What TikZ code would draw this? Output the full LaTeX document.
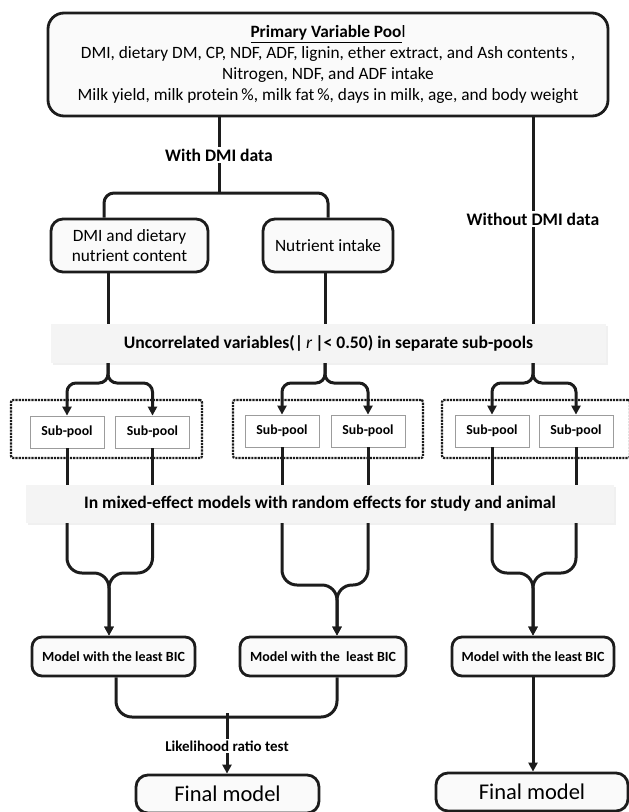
\documentclass[tikz,border=0pt]{standalone}
\usepackage{fontspec}
\setmainfont{Carlito}
\usetikzlibrary{arrows.meta,positioning,calc,shadows}
\definecolor{PoolLine}{HTML}{1C1C1C}
\definecolor{PoolFill}{HTML}{FAFAFA}
\definecolor{BandFill}{HTML}{F4F4F4}
\definecolor{SubLine}{HTML}{9C9C9C}

\begin{document}
\begin{tikzpicture}[x=1pt,y=-1pt,
    box/.style={rounded corners=16pt,draw=PoolLine,line width=2.8pt,fill=PoolFill,align=center,inner sep=2pt},
    band/.style={fill=BandFill,minimum height=39pt,inner sep=0pt,font=\fontsize{17.6}{20}\selectfont\bfseries,drop shadow={opacity=0.12,shadow xshift=1.5pt,shadow yshift=-1.5pt}},
    group/.style={draw=PoolLine,densely dotted,line width=2.2pt,rounded corners=2pt,fill=white,minimum height=58pt},
    subpool/.style={draw=SubLine,fill=white,line width=0.8pt,minimum width=74pt,minimum height=32pt,inner sep=1pt,font=\fontsize{13.8}{15}\selectfont\bfseries},
    shade/.style={drop shadow={opacity=0.3,shadow xshift=1.2pt,shadow yshift=-1.2pt}},
    model/.style={box,rounded corners=10pt,minimum height=39pt,font=\fontsize{14}{16}\selectfont\bfseries},
    final/.style={box,rounded corners=12pt,minimum height=38pt,font=\fontsize{22.5}{25}\selectfont},
    lbl/.style={fill=white,inner sep=2pt,font=\fontsize{17.6}{20}\selectfont\bfseries},
    link/.style={line width=3pt,PoolLine},
    arr/.style={link,-{Triangle[length=9pt,width=9pt]}}
  ]
    \useasboundingbox (0,0) rectangle (629,812);

    % variable pools
    \node[box,minimum width=560pt,minimum height=103pt,font=\fontsize{17.3}{21}\selectfont] (pool) at (328,64.5)
      {\textbf{\underline{Primary Variable Poo}}l\\
       DMI, dietary DM, CP, NDF, ADF, lignin, ether extract, and Ash contents\,,\\
       Nitrogen, NDF, and ADF intake\\
       Milk yield, milk protein\,\%, milk fat\,\%, days in milk, age, and body weight};
    \node[box,rounded corners=12pt,minimum width=157pt,minimum height=53pt,font=\fontsize{17.3}{20}\selectfont] (diet) at (129.5,245.5) {DMI and dietary\\nutrient content};
    \node[box,rounded corners=12pt,minimum width=130pt,minimum height=53pt,font=\fontsize{17.3}{20}\selectfont] (intake) at (328,245.5) {Nutrient intake};

    \node[band,minimum width=555pt] (unc) at (328.5,343.5) {Uncorrelated variables(|\,\textmd{\textit{r}}\,|< 0.50) in separate sub-pools};
    \node[band,minimum width=588pt,minimum height=38pt] (mix) at (320,504) {In mixed-effect models with random effects for study and animal};

    % sub-pools
    \node[group,minimum width=191pt] (grpA) at (106.5,429) {};
    \node[group,minimum width=190pt] (grpB) at (328,429) {};
    \node[group,minimum width=188pt] (grpC) at (536,429) {};
    \node[subpool] (spA1) at (67,432) {Sub-pool};
    \node[subpool] (spA2) at (152.5,432) {Sub-pool};
    \node[subpool,shade] (spB1) at (282,431) {Sub-pool};
    \node[subpool,shade] (spB2) at (368,431) {Sub-pool};
    \node[subpool,shade] (spC1) at (492,431) {Sub-pool};
    \node[subpool,shade] (spC2) at (576,431) {Sub-pool};

    \node[model,minimum width=163pt] (mA) at (113.5,656.5) {Model with the least BIC};
    \node[model,minimum width=166pt] (mB) at (323,656.5) {Model with the\ \ least BIC};
    \node[model,minimum width=162pt] (mC) at (533,656.5) {Model with the least BIC};

    \node[final,minimum width=183pt] (fA) at (227.5,794) {Final model};
    \node[final,minimum width=192pt] (fC) at (532,792) {Final model};

    % junctions
    \coordinate (jw) at (219,193);
    \coordinate (kA) at (108,383);
    \coordinate (kB) at (325,383);
    \coordinate (kC) at (533,383);
    \coordinate (mgA) at (109,573);
    \coordinate (mgB) at (337,585);
    \coordinate (mgC) at (533,573);
    \coordinate (lr) at (227,717);

    % with / without DMI data
    \draw[link] (pool.south -| jw) -- (jw);
    \draw[link,rounded corners=10pt] ([xshift=-25.5pt]diet.north) |- (jw) -| (intake.north);
    \draw[link] (pool.south -| kC) -- (unc.north -| kC);
    \draw[link] (diet.south -| kA) -- (unc.north -| kA);
    \draw[link] (intake.south -| kB) -- (unc.north -| kB);
    \node[lbl] (withdmi) at (219,155) {With DMI data};
    \node[lbl] (nodmi) at (533,219) {Without DMI data};

    % split into sub-pools
    \foreach \k/\a/\b in {kA/spA1/spA2,kB/spB1/spB2,kC/spC1/spC2}{
      \draw[arr,rounded corners=9pt] (unc.south -| \k) -- (\k) -| (\a.north);
      \draw[arr,rounded corners=9pt] (unc.south -| \k) -- (\k) -| (\b.north);
    }
    \foreach \s in {spA1,spA2,spB1,spB2,spC1,spC2}
      \draw[link] (\s.south) -- (\s.south |- mix.north);

    % merge to models
    \foreach \g/\a/\b/\m in {mgA/spA1/spA2/mA,mgB/spB1/spB2/mB,mgC/spC1/spC2/mC}{
      \draw[arr,rounded corners=15pt] (\a.south |- mix.south) |- (\g) -- (\m.north -| \g);
      \draw[arr,rounded corners=15pt] (\b.south |- mix.south) |- (\g) -- (\m.north -| \g);
    }

    % final models
    \draw[link,rounded corners=16pt] ([xshift=2.5pt]mA.south) |- (lr) -| ([xshift=14pt]mB.south);
    \draw[arr] ([yshift=4pt]lr) -- (fA.north -| lr);
    \node[lbl,font=\fontsize{15}{17}\selectfont\bfseries] (lrt) at (227,746) {Likelihood ratio test};
    \draw[arr] (mC.south) -- (fC.north -| mC.south);
  \end{tikzpicture}
\end{document}
